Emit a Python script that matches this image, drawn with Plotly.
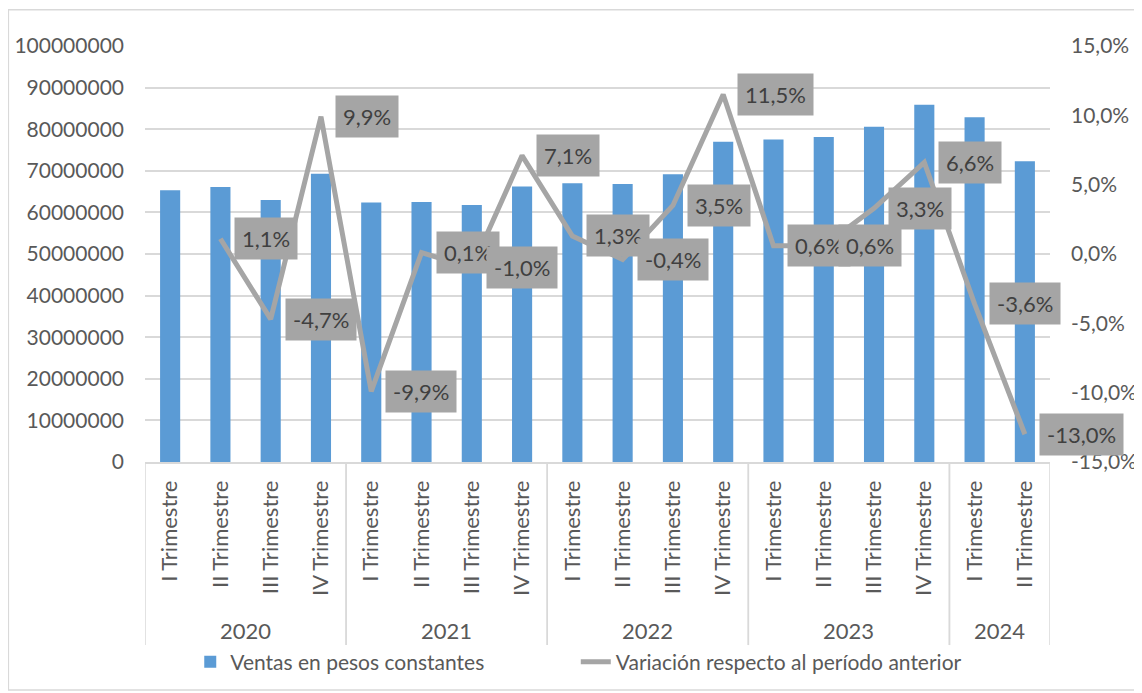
import plotly.graph_objects as go

years = ["2020"] * 4 + ["2021"] * 4 + ["2022"] * 4 + ["2023"] * 4 + ["2024"] * 2
quarters = ["I Trimestre", "II Trimestre", "III Trimestre", "IV Trimestre"] * 4 + ["I Trimestre", "II Trimestre"]

ventas = [65300000, 66100000, 63000000, 69300000,
          62400000, 62500000, 61800000, 66200000,
          67000000, 66800000, 69200000, 77000000,
          77500000, 78100000, 80600000, 85900000,
          82900000, 72300000]

variacion = [None, 1.1, -4.7, 9.9,
             -9.9, 0.1, -1.0, 7.1,
             1.3, -0.4, 3.5, 11.5,
             0.6, 0.6, 3.3, 6.6,
             -3.6, -13.0]

left_ticks = [0, 10000000, 20000000, 30000000, 40000000, 50000000,
              60000000, 70000000, 80000000, 90000000, 100000000]
right_ticks = [-15, -10, -5, 0, 5, 10, 15]

FONT = "Lato, 'Open Sans', sans-serif"
AXIS_COL = "#595959"
BAR_COL = "#5B9BD5"
LINE_COL = "#A5A5A5"
GRID_COL = "#D9D9D9"

def pct(v):
    return f"{v:.1f}%".replace(".", ",")

idx = list(range(len(quarters)))

fig = go.Figure()
fig.add_trace(go.Bar(
    x=idx, y=ventas, name="Ventas en pesos constantes",
    marker=dict(color=BAR_COL, line=dict(width=0)), yaxis="y",
    legend="legend",
))
fig.add_trace(go.Scatter(
    x=idx, y=variacion, name="Variación respecto al período anterior",
    mode="lines", line=dict(color=LINE_COL, width=5), yaxis="y2",
    legend="legend2",
))

annotations = []
for i, v in zip(idx, variacion):
    if v is None:
        continue
    annotations.append(dict(
        x=i, xref="x", y=v, yref="y2", text=pct(v),
        showarrow=False, xanchor="left", yanchor="middle", xshift=14,
        bgcolor=LINE_COL, borderpad=7,
        font=dict(family=FONT, size=22, color="#404040"),
    ))

# year groups: boundaries and centred labels
shapes = []
groups = []
start = 0
for i in range(1, len(years) + 1):
    if i == len(years) or years[i] != years[start]:
        groups.append((years[start], start, i - 1))
        start = i
for name, a, b in groups:
    annotations.append(dict(
        x=(a + b) / 2, xref="x", y=-0.405, yref="paper", text=name,
        showarrow=False, xanchor="center", yanchor="middle",
        font=dict(family=FONT, size=22, color=AXIS_COL),
    ))
    for edge in (a - 0.5, b + 0.5):
        shapes.append(dict(type="line", xref="x", yref="paper",
                           x0=edge, x1=edge, y0=0, y1=-0.44,
                           line=dict(color=GRID_COL, width=1.5)))

shapes.append(dict(type="rect", xref="paper", yref="paper",
                   x0=-0.151, x1=1.099, y0=-0.548, y1=1.087,
                   line=dict(color=GRID_COL, width=1.5),
                   fillcolor="rgba(0,0,0,0)", layer="below"))

legend_style = dict(orientation="h", y=-0.481, xanchor="left", yanchor="middle",
                    font=dict(family=FONT, size=21, color=AXIS_COL),
                    bgcolor="rgba(0,0,0,0)")

fig.update_layout(
    width=1134, height=685,
    margin=dict(l=137, r=92, t=38, b=231, autoexpand=False),
    paper_bgcolor="white", plot_bgcolor="white",
    font=dict(family=FONT, size=21, color=AXIS_COL),
    bargap=0.6,
    showlegend=True,
    legend=dict(x=0.050, **legend_style),
    legend2=dict(x=0.476, **legend_style),
    xaxis=dict(range=[-0.5, len(idx) - 0.5], tickvals=idx, ticktext=quarters,
               tickangle=-90, showline=True, linecolor=GRID_COL, linewidth=1.5,
               showgrid=False, zeroline=False, ticks="", ticklabelstandoff=8,
               tickfont=dict(family=FONT, size=22, color=AXIS_COL)),
    yaxis=dict(range=[0, 100000000], tickvals=left_ticks,
               ticktext=[str(t) for t in left_ticks],
               showgrid=True, gridcolor=GRID_COL, gridwidth=1.5,
               zeroline=False, ticks="", ticklabelstandoff=20,
               tickfont=dict(family=FONT, size=21, color=AXIS_COL)),
    yaxis2=dict(range=[-15, 15], overlaying="y", side="right",
                tickvals=right_ticks, ticktext=[pct(t) for t in right_ticks],
                showgrid=False, zeroline=False, ticks="", ticklabelstandoff=20,
                tickfont=dict(family=FONT, size=21, color=AXIS_COL)),
    annotations=annotations,
    shapes=shapes,
)

fig.write_html("out.html")
